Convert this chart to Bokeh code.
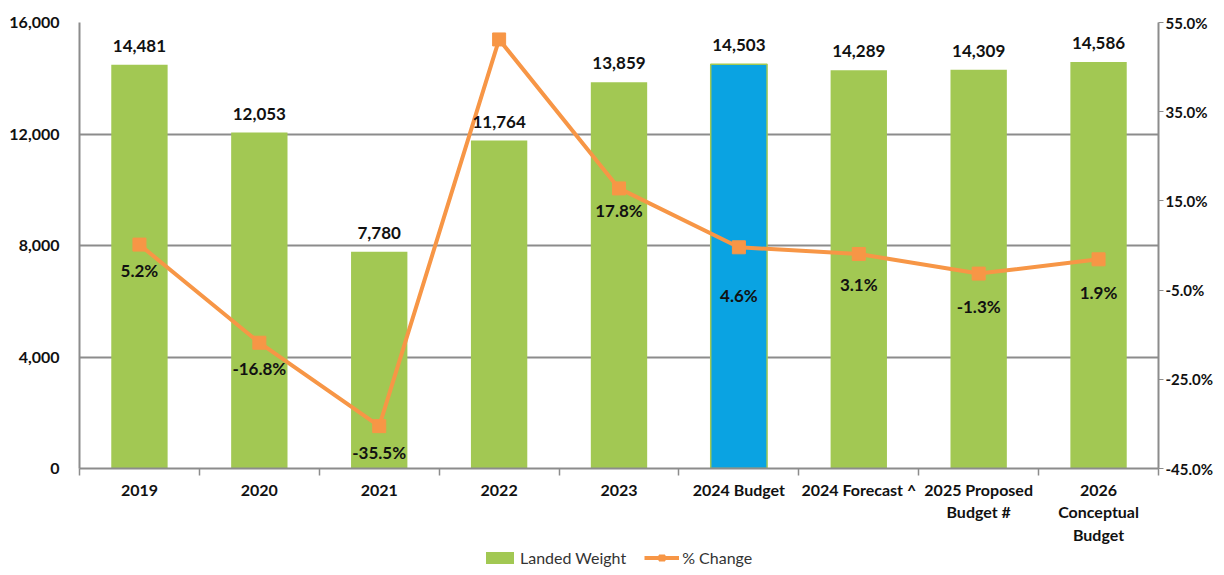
from bokeh.plotting import figure
from bokeh.layouts import column
from bokeh.models import (ColumnDataSource, LinearAxis, Range1d, FixedTicker,
                          LabelSet, Legend, LegendItem, NumeralTickFormatter)
from bokeh.core.properties import value
from bokeh.embed import file_html
from bokeh.resources import INLINE

# ---------------- data ----------------
categories = ["2019", "2020", "2021", "2022", "2023", "2024 Budget",
              "2024 Forecast ^", "2025 Proposed\nBudget #", "2026\nConceptual\nBudget"]
landed_weight = [14481, 12053, 7780, 11764, 13859, 14503, 14289, 14309, 14586]
pct_change = [5.2, -16.8, -35.5, 51.2, 17.8, 4.6, 3.1, -1.3, 1.9]
left_ticks = [0, 4000, 8000, 12000, 16000]
right_ticks = [-45, -25, -5, 15, 35, 55]
series_names = ["Landed Weight", "% Change"]

# ---------------- styles ----------------
GREEN = "#A2C853"
BLUE = "#0AA3E2"
ORANGE = "#F79646"
AXIS_GRAY = "#8C8C8C"
TXT = "#111111"
FONT = "Lato"
highlight = "2024 Budget"
pct_label_dy = [-26, -26, -26, 25, -22, -48, -31, -33, -33]

n = len(categories)
xs = [i + 0.5 for i in range(n)]
bar_colors = [BLUE if c == highlight else GREEN for c in categories]
bar_lines = [GREEN if c == highlight else None for c in categories]

src = ColumnDataSource(dict(
    x=xs, w=landed_weight, p=pct_change, color=bar_colors, lc=bar_lines,
    wlab=[f"{v:,}" for v in landed_weight],
    plab=[f"{v:.1f}%" for v in pct_change],
    pdy=pct_label_dy,
))

W = 1216
LEFT = 79
p = figure(width=W, height=547, output_backend="svg", toolbar_location=None,
           x_range=Range1d(0, n), y_range=Range1d(left_ticks[0], left_ticks[-1]),
           min_border_left=LEFT, min_border_right=58, min_border_top=22,
           min_border_bottom=79)
p.extra_y_ranges = {"pct": Range1d(right_ticks[0], right_ticks[-1])}
p.outline_line_color = None
p.background_fill_color = "white"
p.border_fill_color = "white"

# bars
p.vbar(x="x", top="w", width=0.47, bottom=0, source=src,
       fill_color="color", line_color="lc", line_width=1.5)

# line
p.line(x="x", y="p", source=src, y_range_name="pct", line_color=ORANGE, line_width=4)
p.scatter(x="x", y="p", source=src, y_range_name="pct", marker="square",
          size=13, fill_color=ORANGE, line_color=ORANGE)

# axes
p.xaxis.ticker = FixedTicker(ticks=xs, minor_ticks=list(range(n + 1)))
p.xaxis.major_label_overrides = {x: c for x, c in zip(xs, categories)}
p.xaxis.major_tick_line_color = None
p.xaxis.major_tick_out = 0
p.xaxis.minor_tick_line_color = AXIS_GRAY
p.xaxis.minor_tick_line_width = 1.5
p.xaxis.minor_tick_out = 7
p.xaxis.minor_tick_in = 0
p.xaxis.axis_line_color = AXIS_GRAY
p.xaxis.axis_line_width = 2
p.xaxis.major_label_standoff = 4
p.xaxis.major_label_text_font = FONT
p.xaxis.major_label_text_font_style = "bold"
p.xaxis.major_label_text_font_size = "16px"
p.xaxis.major_label_text_color = TXT
p.xaxis.major_label_text_line_height = 1.2

p.yaxis.ticker = FixedTicker(ticks=left_ticks)
p.yaxis.formatter = NumeralTickFormatter(format="0,0")
p.yaxis.major_tick_line_color = None
p.yaxis.minor_tick_line_color = None
p.yaxis.axis_line_color = AXIS_GRAY
p.yaxis.axis_line_width = 2
p.yaxis.major_label_standoff = 14
p.yaxis.major_label_text_font = FONT
p.yaxis.major_label_text_font_style = "bold"
p.yaxis.major_label_text_font_size = "16px"
p.yaxis.major_label_text_color = TXT

ry = LinearAxis(y_range_name="pct", ticker=FixedTicker(ticks=right_ticks),
                formatter=NumeralTickFormatter(format="0.0"))
ry.major_label_overrides = {t: f"{t:.1f}%" for t in right_ticks}
ry.axis_line_color = AXIS_GRAY
ry.axis_line_width = 2
ry.major_tick_line_color = AXIS_GRAY
ry.major_tick_out = 5
ry.major_tick_in = 0
ry.minor_tick_line_color = None
ry.major_label_standoff = 2
ry.major_label_text_font = FONT
ry.major_label_text_font_style = "bold"
ry.major_label_text_font_size = "15px"
ry.major_label_text_color = TXT
p.add_layout(ry, "right")

p.xgrid.grid_line_color = None
p.ygrid.ticker = FixedTicker(ticks=left_ticks)
p.ygrid.grid_line_color = AXIS_GRAY
p.ygrid.grid_line_width = 2

# labels
wl = LabelSet(x="x", y="w", text="wlab", source=src, text_align="center",
              text_baseline="middle", y_offset=19, text_font=value(FONT),
              text_font_style="bold", text_font_size="17px", text_color=TXT)
pl = LabelSet(x="x", y="p", text="plab", source=src, y_range_name="pct",
              text_align="center", text_baseline="middle", y_offset="pdy",
              text_font=value(FONT), text_font_style="bold", text_font_size="17px",
              text_color=TXT)
p.add_layout(wl)
p.add_layout(pl)

# legend strip (separate small figure so that it sits under the axis labels)
lg = figure(width=W, height=20, output_backend="svg", toolbar_location=None,
            x_range=Range1d(0, 1), y_range=Range1d(0, 1),
            min_border=0, min_border_left=0, min_border_right=0,
            min_border_top=0, min_border_bottom=0)
lg.axis.visible = False
lg.grid.visible = False
lg.outline_line_color = None
lg.background_fill_color = None
lg.border_fill_color = None
# proxy glyphs placed outside the visible range: only their legend swatches show
lbar = lg.vbar(x=[-5], top=[-5], bottom=-6, width=0.5, fill_color=GREEN, line_color=None)
lline = lg.line(x=[-5, -4], y=[-5, -5], line_color=ORANGE, line_width=4)
lsq = lg.scatter(x=[-5], y=[-5], marker="square", size=11, fill_color=ORANGE, line_color=ORANGE)
legend = Legend(items=[LegendItem(label=series_names[0], renderers=[lbar]),
                       LegendItem(label=series_names[1], renderers=[lline, lsq])],
                orientation="horizontal", location=(482 - LEFT, 0),
                glyph_width=35, glyph_height=15, label_text_font=FONT,
                label_text_font_size="16px", label_text_color="#333333",
                border_line_color=None, background_fill_alpha=0,
                padding=0, spacing=18, label_standoff=3, margin=0)
lg.add_layout(legend, "center")

open("out.html", "w").write(file_html(column(p, lg, spacing=0), INLINE))
